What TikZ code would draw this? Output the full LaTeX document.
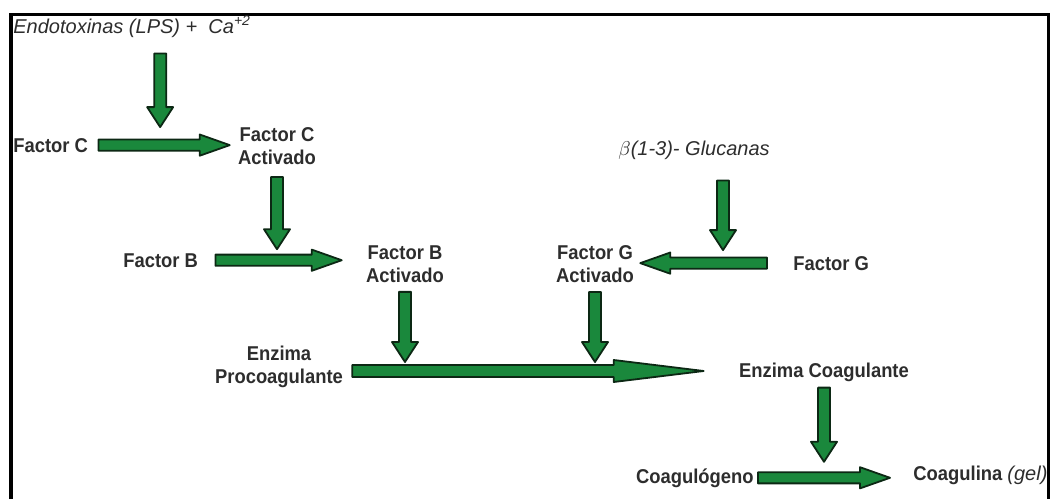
\documentclass[tikz,border=0pt]{standalone}
\usepackage{fontspec}
\setmainfont{Liberation Sans}[FakeStretch=0.92]
\newfontfamily\ligera{Liberation Sans}
\usetikzlibrary{calc,positioning}

\definecolor{verde}{RGB}{26,136,60}
\definecolor{verdeosc}{RGB}{12,40,20}
\definecolor{texto}{RGB}{45,45,45}

\tikzset{
  blk shaft/.store in=\blkshaft, blk head/.store in=\blkhead, blk tip/.store in=\blktip,
  blk shaft=3pt, blk head=6.5pt, blk tip=10pt,
  flecha/.style={draw=verdeosc, fill=verde, line width=0.9pt, line join=round,
    to path={($(\tikztostart)!\blkshaft!90:(\tikztotarget)$)
      -- ($(\tikztotarget)!\blktip!(\tikztostart)!\blkshaft!90:(\tikztotarget)$)
      -- ($(\tikztotarget)!\blktip!(\tikztostart)!\blkhead!90:(\tikztotarget)$)
      -- (\tikztotarget)
      -- ($(\tikztotarget)!\blktip!(\tikztostart)!\blkhead!-90:(\tikztotarget)$)
      -- ($(\tikztotarget)!\blktip!(\tikztostart)!\blkshaft!-90:(\tikztotarget)$)
      -- ($(\tikztostart)!\blkshaft!-90:(\tikztotarget)$) -- cycle}},
  flechah/.style={flecha, blk shaft=2.8pt, blk head=5.3pt, blk tip=15pt},
  flechal/.style={flecha, blk shaft=3pt, blk head=5.5pt, blk tip=45pt},
  etiq/.style={font=\fontsize{10}{11.5}\selectfont\bfseries, text=texto, inner sep=0pt, align=center},
  cursiva/.style={font=\fontsize{10}{11.5}\selectfont\ligera\itshape, text=texto, inner sep=0pt},
  marco/.style={line width=1.75pt},
}

\begin{document}
\begin{tikzpicture}[x=0.5pt, y=-0.5pt]
\useasboundingbox (0,0) rectangle (1050,499);
\draw[marco] (11,499) -- (11,14.5) -- (1048.3,14.5) -- (1048.3,499);

% textos
\node[cursiva, anchor=base west] (endo) at (13,33) {Endotoxinas (LPS) +\ \ Ca\textsuperscript{+2}};
\node[etiq, anchor=base west] (fc) at (13,152) {Factor C};
\node[etiq] (fca) at (277,146) {Factor C\\Activado};
\node[etiq, anchor=base west] (fb) at (123,267) {Factor B};
\node[etiq] (fba) at (405,264) {Factor B\\Activado};
\node[cursiva, anchor=base west] (glu) at (618,155) {$\beta$(1-3)- Glucanas};
\node[etiq, anchor=base west] (fg) at (793,270) {Factor G};
\node[etiq] (fga) at (595,264) {Factor G\\Activado};
\node[etiq] (ep) at (279,367) {Enzima\\Procoagulante};
\node[etiq, anchor=base] (ec) at (824,377) {Enzima Coagulante};
\node[etiq, anchor=base east] (cg) at (754,483) {Coagulógeno};
\node[etiq, anchor=base west] (cl) at (913,480) {Coagulina {\ligera\mdseries\itshape (gel)}};

% flechas horizontales
\coordinate (a1) at ([xshift=5pt]fc.east);
\coordinate (b1) at ([xshift=-4pt]fc.east -| fca.west);
\draw[flechah] (a1) to (b1);
\coordinate (a2) at ([xshift=8.5pt]fb.east);
\coordinate (b2) at ([xshift=-12pt]fb.east -| fba.west);
\draw[flechah] (a2) to (b2);
\coordinate (a3) at ([xshift=-13pt]fg.west);
\coordinate (b3) at ([xshift=3pt]fg.west -| fga.east);
\draw[flechah] (a3) to (b3);
\coordinate (a4) at ([xshift=4.5pt,yshift=-2pt]ep.east);
\coordinate (b4) at ([xshift=-17.5pt]a4 -| ec.west);
\draw[flechal] (a4) to (b4);
\coordinate (a5) at ([xshift=2pt]cg.east);
\coordinate (b5) at ([xshift=-11.5pt]cg.east -| cl.west);
\draw[flechah] (a5) to (b5);

% flechas verticales
\coordinate (m1) at ($(a1)!0.47!(b1)$);
\draw[flecha] ([yshift=-8pt]endo.south -| m1) to ([yshift=9pt]m1);
\draw[flecha] ([yshift=-6pt]fca.south) to ([yshift=5.5pt]fca.south |- a2);
\draw[flecha] ([yshift=-10.5pt]glu.south -| 723,0) to ([yshift=6.5pt]a3 -| 723,0);
\draw[flecha] ([yshift=-4.5pt]fba.south) to ([yshift=4.5pt]fba.south |- a4);
\draw[flecha] ([yshift=-4.5pt]fga.south) to ([yshift=4.5pt]fga.south |- a4);
\draw[flecha] ([yshift=-3pt]ec.south) to ([yshift=8pt]ec.south |- a5);
\end{tikzpicture}
\end{document}
